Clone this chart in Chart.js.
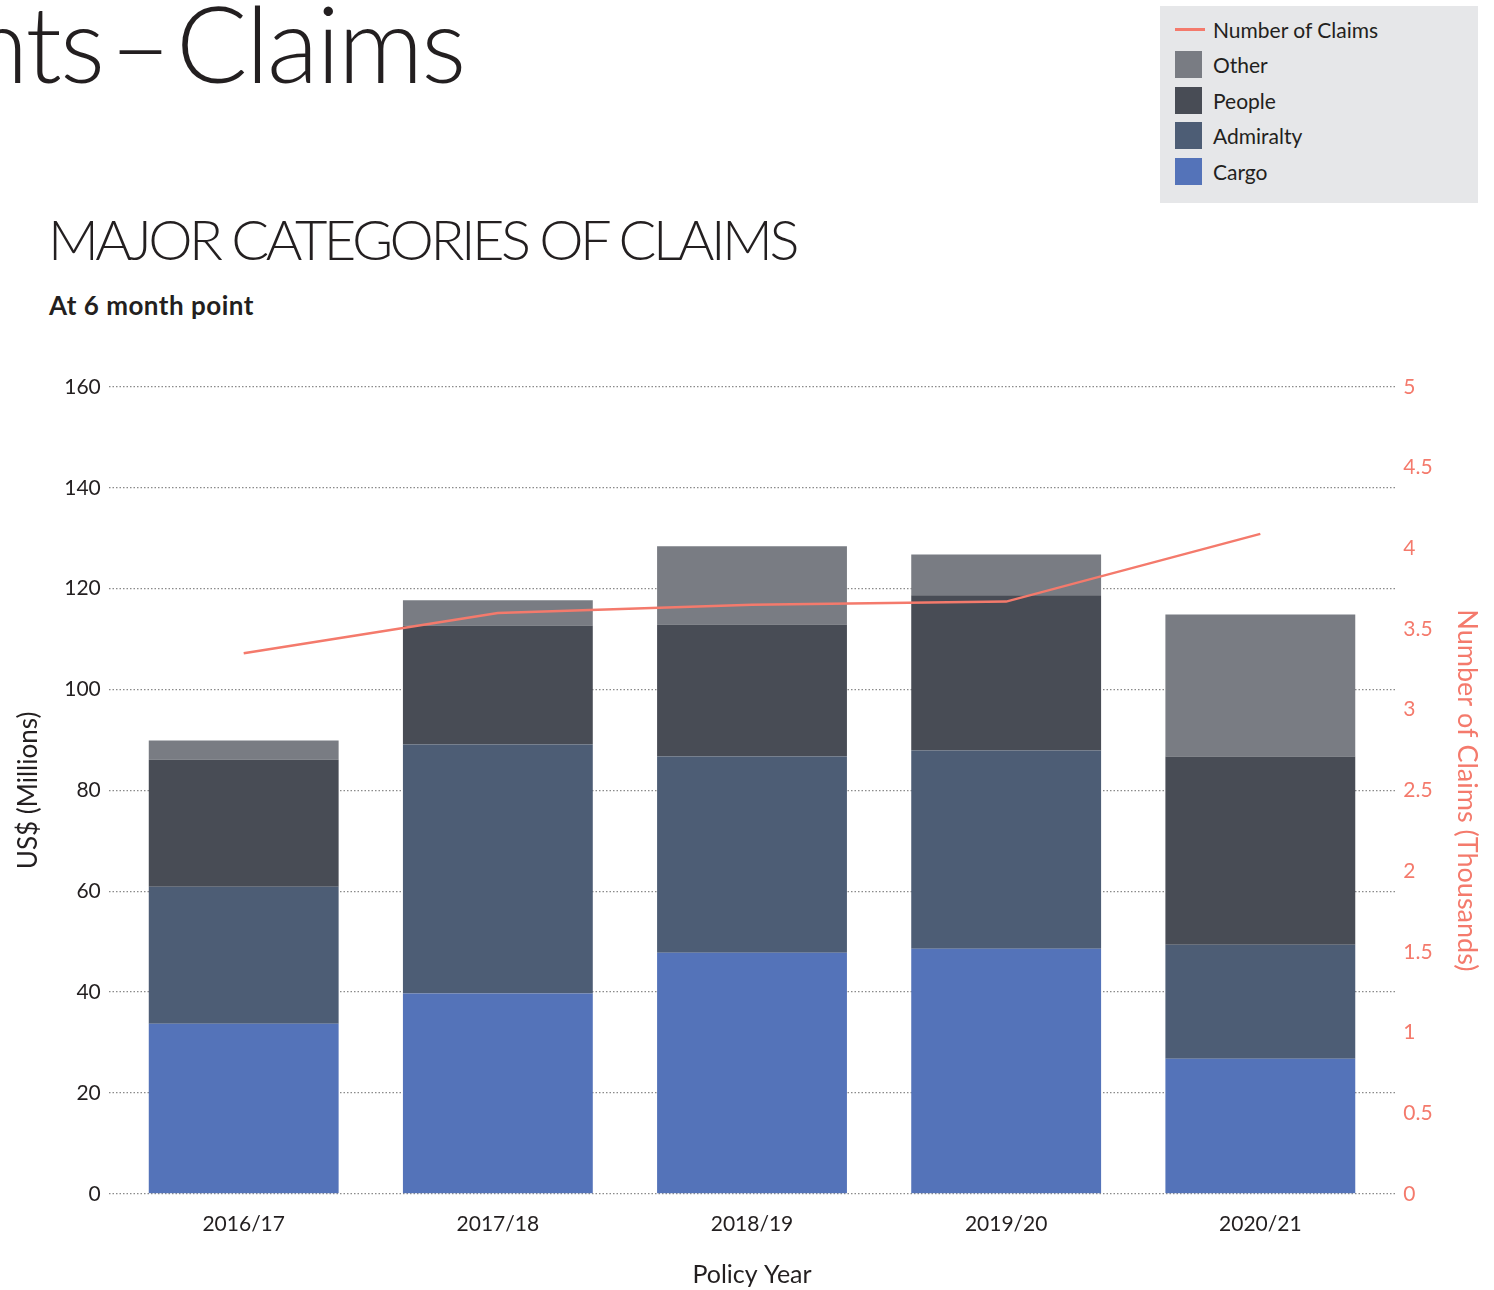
<!DOCTYPE html>
<html>
<head>
<meta charset="utf-8">
<script src="https://cdn.jsdelivr.net/npm/chart.js@4.4.1/dist/chart.umd.min.js"></script>
<style>
  body { margin: 0; width: 1494px; height: 1290px; position: relative; overflow: hidden; background: #fff; font-family: Lato, "Open Sans", sans-serif; color: #231f20; }
  #big-title { position: absolute; left: -30px; top: -22px; font-size: 106px; font-weight: 300; letter-spacing: -2px; word-spacing: -20px; white-space: nowrap; }
  #sub-title { position: absolute; left: 48px; top: 205px; font-size: 56px; font-weight: 300; letter-spacing: -3.5px; white-space: nowrap; }
  #note { position: absolute; left: 49px; top: 289px; font-size: 26px; font-weight: 700; letter-spacing: 0.5px; }
  #legend { position: absolute; left: 1160px; top: 6px; width: 318px; height: 197px; background: #e6e7e9; }
  #legend .item { position: absolute; left: 15px; height: 28px; display: flex; align-items: center; font-size: 21px; }
  #legend .sw { width: 27px; height: 27px; margin-right: 11px; }
  #legend .ln { width: 30px; height: 3px; margin-right: 8px; }
  #wrap { position: absolute; left: 0; top: 340px; width: 1494px; height: 950px; }
</style>
</head>
<body>
<div id="big-title">nts – Claims</div>
<div id="sub-title">MAJOR CATEGORIES OF CLAIMS</div>
<div id="note">At 6 month point</div>
<div id="legend"></div>
<div id="wrap"><canvas id="chart"></canvas></div>
<script>
// Dati
const policyYears = ["2016/17", "2017/18", "2018/19", "2019/20", "2020/21"];
const cargo     = [33.7, 39.7, 47.8, 48.6, 26.8];
const admiralty = [27.2, 49.4, 38.9, 39.3, 22.6];
const people    = [25.2, 23.6, 26.2, 30.8, 37.3];
const other     = [3.8, 5.0, 15.5, 8.1, 28.2];
const numberOfClaims = [3.35, 3.60, 3.65, 3.67, 4.09];

const leftTicks = [0, 20, 40, 60, 80, 100, 120, 140, 160];
const rightTicks = [0, 0.5, 1, 1.5, 2, 2.5, 3, 3.5, 4, 4.5, 5];

const salmon = "#f47a6c";
const barColors = { Cargo: "#5473b9", Admiralty: "#4d5d75", People: "#484c55", Other: "#797c83" };

// asse x lineare: un po' di margine ai lati come nell'originale
const toPoints = arr => arr.map((v, i) => ({ x: i, y: v }));

const bar = (label, data) => ({
  type: "bar", label, data: toPoints(data), yAxisID: "y", order: 2,
  backgroundColor: barColors[label], borderWidth: 0,
  categoryPercentage: 1, barPercentage: 0.747
});

const datasets = [
  { type: "line", label: "Number of Claims", data: toPoints(numberOfClaims), yAxisID: "y1", order: 0,
    borderColor: salmon, borderWidth: 2.5, pointRadius: 0, tension: 0, fill: false },
  bar("Cargo", cargo),
  bar("Admiralty", admiralty),
  bar("People", people),
  bar("Other", other)
];

// Legenda in HTML (ordine come nell'originale)
const legend = document.getElementById("legend");
["Number of Claims", "Other", "People", "Admiralty", "Cargo"].forEach((name, i) => {
  const div = document.createElement("div");
  div.className = "item";
  div.style.top = (9 + i * 35.5) + "px";
  const mark = name === "Number of Claims"
    ? `<span class="ln" style="background:${salmon}"></span>`
    : `<span class="sw" style="background:${barColors[name]}"></span>`;
  div.innerHTML = `${mark}<span>${name}</span>`;
  legend.appendChild(div);
});

const dotted = { color: "#8a8a8a", lineWidth: 1.2, drawTicks: false };

new Chart(document.getElementById("chart"), {
  data: { datasets },
  options: {
    responsive: true,
    maintainAspectRatio: false,
    animation: false,
    layout: { padding: { top: 47, left: 13, right: 11, bottom: 0 } },
    plugins: { legend: { display: false }, tooltip: { enabled: false } },
    scales: {
      x: {
        type: "linear",
        stacked: true,
        offset: false,
        min: -0.531, max: policyYears.length - 1 + 0.531,
        afterBuildTicks: s => { s.ticks = policyYears.map((_, i) => ({ value: i })); },
        grid: { display: false, drawTicks: false },
        border: { display: false },
        ticks: { color: "#231f20", font: { family: "Lato", size: 21 }, padding: 18,
                 callback: v => policyYears[v] },
        title: { display: true, text: "Policy Year", color: "#231f20",
                 font: { family: "Lato", size: 25 }, padding: { top: 5, bottom: 0 } }
      },
      y: {
        stacked: true,
        min: 0, max: 160,
        afterBuildTicks: s => { s.ticks = leftTicks.map(v => ({ value: v })); },
        grid: dotted,
        border: { display: false, dash: [1.5, 2] },
        ticks: { color: "#231f20", font: { family: "Lato", size: 21 }, padding: 8 },
        title: { display: true, text: "US$ (Millions)", color: "#231f20",
                 font: { family: "Lato", size: 26 }, padding: { top: 0, bottom: 12 } }
      },
      y1: {
        position: "right",
        min: 0, max: 5,
        afterBuildTicks: s => { s.ticks = rightTicks.map(v => ({ value: v })); },
        grid: { display: false, drawTicks: false },
        border: { display: false },
        ticks: { color: salmon, font: { family: "Lato", size: 21 }, padding: 8,
                 callback: v => String(v) },
        title: { display: true, text: "Number of Claims (Thousands)", color: salmon,
                 font: { family: "Lato", size: 27 }, padding: { top: 0, bottom: 10 } }
      }
    }
  }
});
</script>
</body>
</html>
